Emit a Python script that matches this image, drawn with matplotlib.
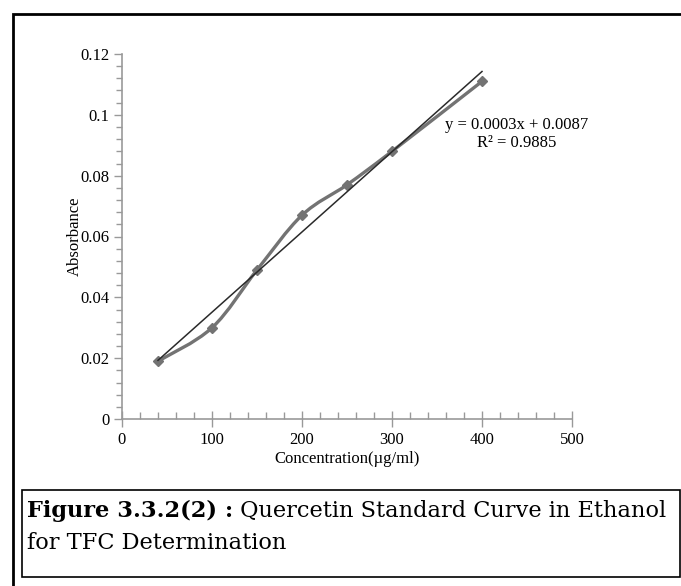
import numpy as np
import matplotlib
matplotlib.use("Agg")
import matplotlib.pyplot as plt
from matplotlib.path import Path
from matplotlib.patches import PathPatch, Rectangle
from matplotlib.ticker import MultipleLocator

conc = [40, 100, 150, 200, 250, 300, 400]
absorb = [0.019, 0.030, 0.049, 0.067, 0.077, 0.088, 0.111]
eq_text = "y = 0.0003x + 0.0087"
r2_text = "R² = 0.9885"
xlabel = "Concentration(µg/ml)"
ylabel = "Absorbance"
cap_bold = "Figure 3.3.2(2) :"
cap_rest = " Quercetin Standard Curve in Ethanol"
cap_line2 = "for TFC Determination"

W, H = 681, 586
fig = plt.figure(figsize=(W / 100, H / 100), dpi=100)
serif = ["Liberation Serif", "DejaVu Serif"]
fs = 12

# axes: x 0..500 -> px 122..572 ; y 0..0.12 -> px 419..54
ax = fig.add_axes([122 / W, 1 - 419 / H, 450 / W, 365 / H])
ax.set_xlim(0, 500)
ax.set_ylim(0, 0.12)
for s in ["top", "right"]:
    ax.spines[s].set_visible(False)
for s in ["left", "bottom"]:
    ax.spines[s].set_color("#999999")
    ax.spines[s].set_linewidth(1.2)
ax.xaxis.set_major_locator(MultipleLocator(100))
ax.xaxis.set_minor_locator(MultipleLocator(20))
ax.yaxis.set_major_locator(MultipleLocator(0.02))
ax.yaxis.set_minor_locator(MultipleLocator(0.004))
ax.tick_params(axis="x", which="major", direction="inout", length=11, width=1, color="#999999",
               labelsize=fs, pad=4)
ax.tick_params(axis="x", which="minor", direction="in", length=5, width=1, color="#999999")
ax.tick_params(axis="y", which="major", direction="out", length=6, width=1, color="#999999",
               labelsize=fs, pad=3)
ax.tick_params(axis="y", which="minor", direction="out", length=4, width=1, color="#999999")
ax.set_xticks([0, 100, 200, 300, 400, 500])
ax.set_xticklabels(["0", "100", "200", "300", "400", "500"], family=serif)
ax.set_yticks([0, 0.02, 0.04, 0.06, 0.08, 0.1, 0.12])
ax.set_yticklabels(["0", "0.02", "0.04", "0.06", "0.08", "0.1", "0.12"], family=serif)
ax.set_xlabel(xlabel, family=serif, fontsize=fs, labelpad=2)
ax.set_ylabel(ylabel, family=serif, fontsize=fs)
ax.yaxis.set_label_coords(-0.086, 0.5)

# smoothed line (Catmull-Rom style bezier through data points)
x = np.array(conc, float)
y = np.array(absorb, float)
n = len(x)
verts = [(x[0], y[0])]
codes = [Path.MOVETO]
t = 1 / 6
for i in range(n - 1):
    p0 = (x[i - 1], y[i - 1]) if i > 0 else (x[i], y[i])
    p1 = (x[i], y[i])
    p2 = (x[i + 1], y[i + 1])
    p3 = (x[i + 2], y[i + 2]) if i + 2 < n else p2
    c1 = (p1[0] + (p2[0] - p0[0]) * t, p1[1] + (p2[1] - p0[1]) * t)
    c2 = (p2[0] - (p3[0] - p1[0]) * t, p2[1] - (p3[1] - p1[1]) * t)
    verts += [c1, c2, p2]
    codes += [Path.CURVE4] * 3
ax.add_patch(PathPatch(Path(verts, codes), fill=False, edgecolor="#737373", lw=2.4, zorder=3))
ax.plot(conc, absorb, linestyle="none", marker="D", markersize=5, color="#737373", zorder=4)

# linear trendline
m, b = np.polyfit(x, y, 1)
xt = np.array([x.min(), x.max()])
ax.plot(xt, m * xt + b, color="#2a2a2a", lw=1.1, zorder=5)

ax.text(0.876, 0.805, eq_text, transform=ax.transAxes, ha="center", va="center",
        family=serif, fontsize=fs)
ax.text(0.876, 0.756, r2_text, transform=ax.transAxes, ha="center", va="center",
        family=serif, fontsize=fs)

# outer frame
fig.patches.append(Rectangle((12.5 / W, -0.05), 1.2, 1 - 13.5 / H + 0.05, transform=fig.transFigure,
                             fill=False, edgecolor="black", lw=2, zorder=0))
# caption box
fig.patches.append(Rectangle((22 / W, 1 - 577 / H), 658 / W, 87 / H, transform=fig.transFigure,
                             fill=False, edgecolor="black", lw=1.2))
capfont = ["DejaVu Serif", "Liberation Serif"]
capsize = 16.2
t1 = fig.text(27 / W, 1 - 511 / H, cap_bold, fontsize=capsize, fontweight="bold",
              family=capfont, va="center", ha="left")
fig.canvas.draw()
bb = t1.get_window_extent()
fig.text(bb.x1 / W, 1 - 511 / H, cap_rest, fontsize=capsize, family=capfont, va="center", ha="left")
fig.text(27 / W, 1 - 543 / H, cap_line2, fontsize=capsize, family=capfont, va="center", ha="left")

fig.savefig("out.png", dpi=100)
